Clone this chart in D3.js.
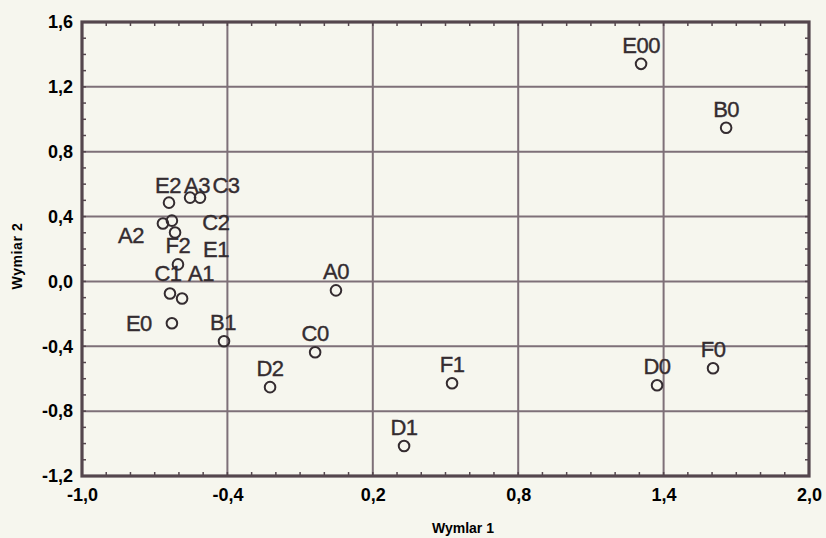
<!DOCTYPE html>
<html>
<head>
<meta charset="utf-8">
<script src="https://cdn.jsdelivr.net/npm/d3@7"></script>
<style>
  html, body { margin: 0; padding: 0; background: #f6f6ee; }
  svg { display: block; }
</style>
</head>
<body>
<div id="chart"></div>
<script>
// point names and coordinates (Wymiar 1, Wymiar 2)
const names = ["E00", "B0", "D0", "F0", "F1", "D1", "A0", "C0", "D2", "B1",
  "E0", "E2", "A3", "C3", "A2", "C2", "E1", "F2", "C1", "A1"];
const dim1 = [1.307, 1.658, 1.373, 1.604, 0.527, 0.329, 0.048, -0.038, -0.224, -0.414,
  -0.629, -0.641, -0.554, -0.513, -0.666, -0.629, -0.616, -0.604, -0.637, -0.587];
const dim2 = [1.342, 0.948, -0.640, -0.535, -0.628, -1.015, -0.055, -0.437, -0.652, -0.369,
  -0.258, 0.486, 0.517, 0.517, 0.357, 0.375, 0.302, 0.105, -0.074, -0.105];

const xTicks = [-1.0, -0.4, 0.2, 0.8, 1.4, 2.0];
const xTickLabels = ["-1,0", "-0,4", "0,2", "0,8", "1,4", "2,0"];
const yTicks = [-1.2, -0.8, -0.4, 0.0, 0.4, 0.8, 1.2, 1.6];
const yTickLabels = ["-1,2", "-0,8", "-0,4", "0,0", "0,4", "0,8", "1,2", "1,6"];

// label placement (px, relative to the marker); default is centred above
const labelShift = {
  E0: [-33, 8], E2: [-1, -10], A3: [7, -5], C3: [26, -5], A2: [-32, 19],
  C2: [44, 9], E1: [41, 25], C1: [-2, -12], A1: [19, -17], B1: [-1, -11]
};

const W = 826, H = 538;
const margin = { top: 22, right: 17, bottom: 62, left: 82 };
const x = d3.scaleLinear().domain([-1.0, 2.0]).range([margin.left, W - margin.right]);
const y = d3.scaleLinear().domain([-1.2, 1.6]).range([H - margin.bottom, margin.top]);

const ink = "#342c30";
const gridCol = "#7e7078";
const frameCol = "#54464d";
const font = "Liberation Sans, Arial, sans-serif";

const svg = d3.select("#chart").append("svg")
  .attr("width", W).attr("height", H);

svg.append("rect").attr("width", W).attr("height", H).attr("fill", "#f6f6ee");

const x0 = x.range()[0], x1 = x.range()[1];
const y0 = y.range()[0], y1 = y.range()[1];

// grid
svg.append("g")
  .selectAll("line")
  .data(xTicks.slice(1, -1))
  .join("line")
  .attr("x1", d => x(d)).attr("x2", d => x(d))
  .attr("y1", y1).attr("y2", y0)
  .attr("stroke", gridCol).attr("stroke-width", 2);

svg.append("g")
  .selectAll("line")
  .data(yTicks.slice(1, -1))
  .join("line")
  .attr("x1", x0).attr("x2", x1)
  .attr("y1", d => y(d)).attr("y2", d => y(d))
  .attr("stroke", gridCol).attr("stroke-width", 2);

// minor ticks along the frame
const minorX = d3.range(-10, 21).map(i => i / 10);
const minorY = d3.range(-12, 17).map(i => i / 10);
const tk = svg.append("g").attr("stroke", frameCol).attr("stroke-width", 1.5);
minorX.forEach(v => {
  tk.append("line").attr("x1", x(v)).attr("x2", x(v)).attr("y1", y1).attr("y2", y1 + 4);
  tk.append("line").attr("x1", x(v)).attr("x2", x(v)).attr("y1", y0).attr("y2", y0 - 4);
});
minorY.forEach(v => {
  tk.append("line").attr("x1", x0).attr("x2", x0 + 4).attr("y1", y(v)).attr("y2", y(v));
  tk.append("line").attr("x1", x1).attr("x2", x1 - 4).attr("y1", y(v)).attr("y2", y(v));
});

// frame
svg.append("rect")
  .attr("x", x0).attr("y", y1)
  .attr("width", x1 - x0).attr("height", y0 - y1)
  .attr("fill", "none").attr("stroke", frameCol).attr("stroke-width", 3.2);

// tick labels
svg.append("g")
  .attr("transform", `translate(0,${y0})`)
  .call(d3.axisBottom(x).tickValues(xTicks).tickSize(0).tickPadding(12)
    .tickFormat((d, i) => xTickLabels[i]))
  .call(g => g.select(".domain").remove())
  .call(g => g.selectAll("text")
    .attr("fill", "#000").attr("font-family", font)
    .attr("font-size", 18).attr("font-weight", "bold"));

svg.append("g")
  .attr("transform", `translate(${x0},0)`)
  .call(d3.axisLeft(y).tickValues(yTicks).tickSize(0).tickPadding(9)
    .tickFormat((d, i) => yTickLabels[i]))
  .call(g => g.select(".domain").remove())
  .call(g => g.selectAll("text")
    .attr("fill", "#000").attr("font-family", font)
    .attr("font-size", 18).attr("font-weight", "bold"));

// axis titles
svg.append("text")
  .attr("x", 463).attr("y", 533)
  .attr("text-anchor", "middle")
  .attr("font-family", font)
  .attr("font-size", 14).attr("font-weight", "bold").attr("fill", "#000")
  .text("Wymlar 1");

svg.append("text")
  .attr("transform", `translate(22,256) rotate(-90)`)
  .attr("text-anchor", "middle")
  .attr("font-family", font)
  .attr("font-size", 14).attr("font-weight", "bold").attr("fill", "#000")
  .attr("letter-spacing", 0.6)
  .text("Wymiar 2");

// points
const pts = names.map((n, i) => ({ name: n, x: dim1[i], y: dim2[i] }));

svg.append("g")
  .selectAll("circle")
  .data(pts)
  .join("circle")
  .attr("cx", d => x(d.x)).attr("cy", d => y(d.y))
  .attr("r", 5.3)
  .attr("fill", "none").attr("stroke", ink).attr("stroke-width", 2);

svg.append("g")
  .selectAll("text")
  .data(pts)
  .join("text")
  .attr("x", d => x(d.x) + (labelShift[d.name] ? labelShift[d.name][0] : 0))
  .attr("y", d => y(d.y) + (labelShift[d.name] ? labelShift[d.name][1] : -11))
  .attr("text-anchor", "middle")
  .attr("font-family", font)
  .attr("font-size", 22).attr("letter-spacing", -0.5)
  .attr("fill", ink).attr("stroke", ink).attr("stroke-width", 0.4)
  .text(d => d.name);
</script>
</body>
</html>
